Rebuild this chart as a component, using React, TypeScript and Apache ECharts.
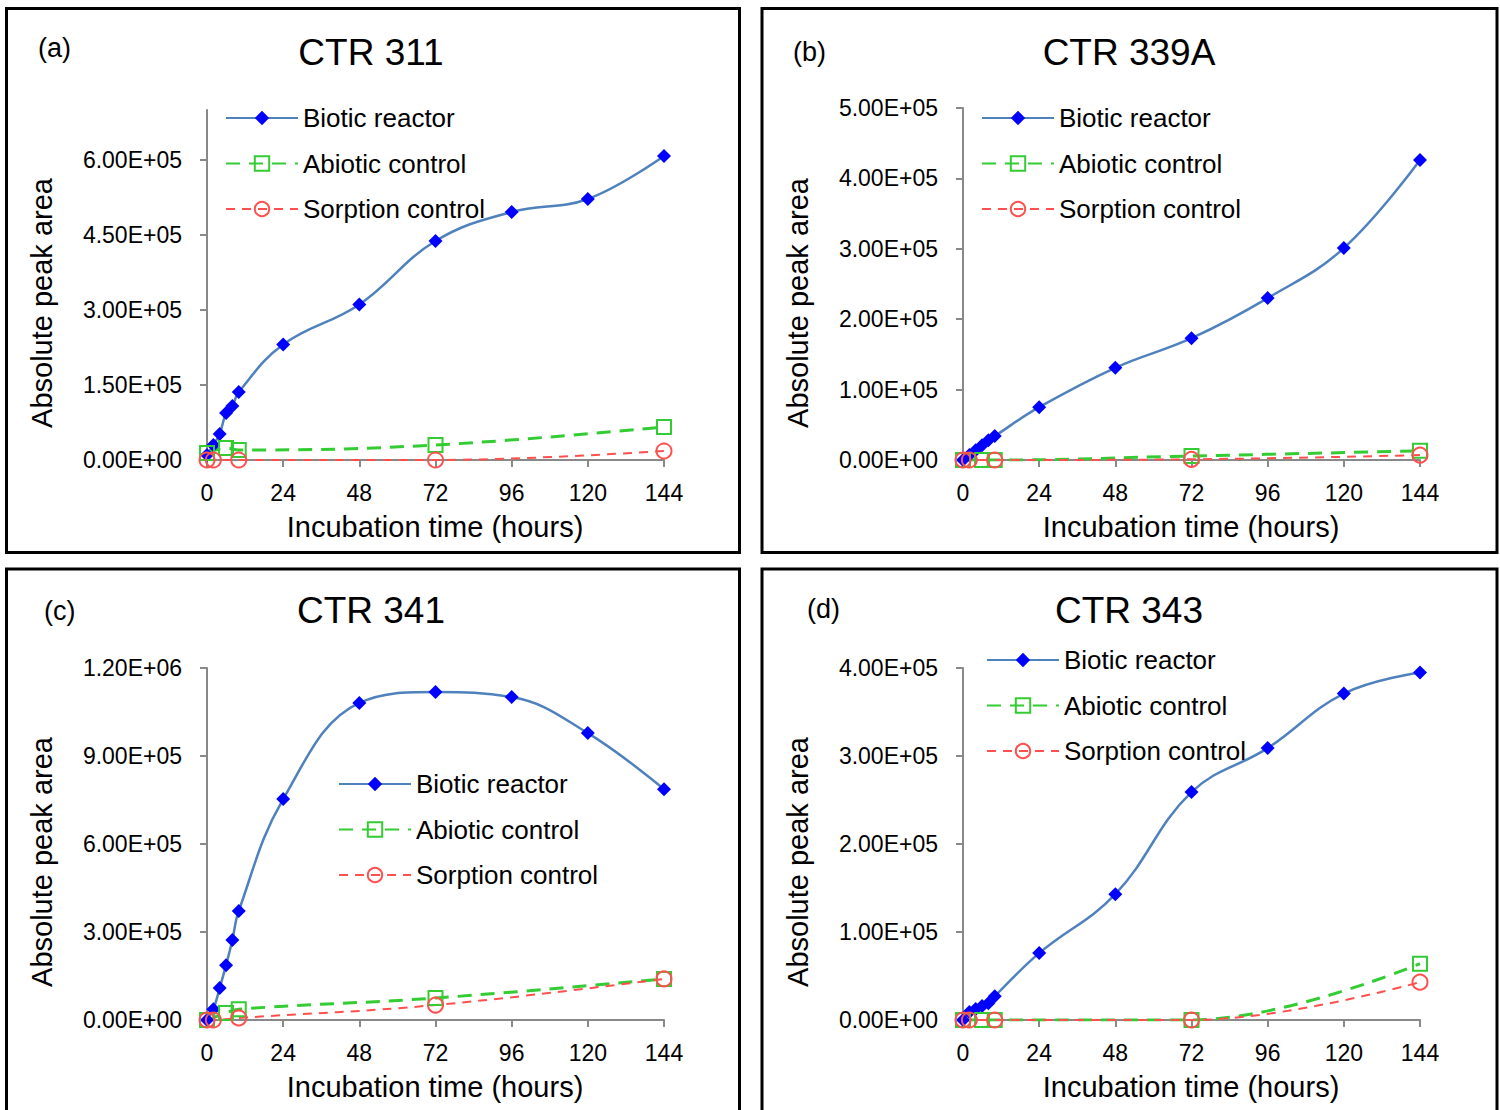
import React, { useEffect, useRef } from "react";
import * as echarts from "echarts";

// ---------- data ----------
const TIMES_BIOTIC = [0, 2, 4, 6, 8, 10, 24, 48, 72, 96, 120, 144];
const TIMES_ABIOTIC = [0, 6, 10, 72, 144];
const TIMES_SORPTION = [0, 2, 10, 72, 144];

const BIOTIC_A = [10000, 30000, 52000, 94000, 108000, 136000, 231000, 311000, 438000, 496000, 522000, 608000];
const ABIOTIC_A = [14000, 24000, 20000, 30000, 66000];
const SORPTION_A = [0, 0, 0, 0, 18000];

const BIOTIC_B = [0, 7000, 14000, 21000, 28000, 34000, 75000, 131000, 173000, 230000, 301000, 426000];
const ABIOTIC_B = [0, 0, 0, 5700, 13000];
const SORPTION_B = [0, 0, 0, 1000, 7000];

const BIOTIC_C = [0, 37000, 109000, 187000, 273000, 372000, 753000, 1081000, 1118000, 1101000, 978000, 787000];
const ABIOTIC_C = [0, 24000, 37000, 75000, 140000];
const SORPTION_C = [0, 0, 7000, 51000, 140000];

const BIOTIC_D = [0, 9000, 12500, 16000, 19000, 27000, 76000, 143000, 259000, 309000, 371000, 395000];
const ABIOTIC_D = [0, 0, 0, 0, 64000];
const SORPTION_D = [0, 0, 0, 0, 43000];

const PANEL_TITLES = ["CTR 311", "CTR 339A", "CTR 341", "CTR 343"];
const PANEL_LETTERS = ["(a)", "(b)", "(c)", "(d)"];
const SERIES_NAMES = ["Biotic reactor", "Abiotic control", "Sorption control"];
const X_TICKS = [0, 24, 48, 72, 96, 120, 144];
const Y_TICKS_A = [0, 150000, 300000, 450000, 600000];
const Y_TICKS_B = [0, 100000, 200000, 300000, 400000, 500000];
const Y_TICKS_C = [0, 300000, 600000, 900000, 1200000];
const Y_TICKS_D = [0, 100000, 200000, 300000, 400000];
const Y_MAX = [700000, 500000, 1200000, 400000];
const X_NAME = "Incubation time (hours)";
const Y_NAME = "Absolute peak area";

const FONT = "'Liberation Sans', Arial, sans-serif";

function fmtSci(v: number): string {
  if (v === 0) return "0.00E+00";
  let e = Math.floor(Math.log10(Math.abs(v)));
  let m = v / Math.pow(10, e);
  if (Math.round(m * 100) / 100 >= 10) {
    e += 1;
    m = v / Math.pow(10, e);
  }
  return m.toFixed(2) + "E" + (e < 0 ? "-" : "+") + String(Math.abs(e)).padStart(2, "0");
}

const pairs = (t: number[], v: number[]) => t.map((x, i) => [x, v[i]]);

export default function App() {
  const ref = useRef<HTMLDivElement>(null);

  useEffect(() => {
    if (!ref.current) return;
    const chart = echarts.init(ref.current, undefined, { renderer: "svg" });

    const grids = [
      { left: 207, top: 110, width: 457, height: 350 },
      { left: 963, top: 108, width: 457, height: 352 },
      { left: 207, top: 668, width: 457, height: 352 },
      { left: 963, top: 668, width: 457, height: 352 },
    ];
    const yTicks = [Y_TICKS_A, Y_TICKS_B, Y_TICKS_C, Y_TICKS_D];
    const data = [
      [BIOTIC_A, ABIOTIC_A, SORPTION_A],
      [BIOTIC_B, ABIOTIC_B, SORPTION_B],
      [BIOTIC_C, ABIOTIC_C, SORPTION_C],
      [BIOTIC_D, ABIOTIC_D, SORPTION_D],
    ];
    const axisColor = "#898989";

    const xAxis = grids.map((_, i) => ({
      type: "value",
      gridIndex: i,
      min: 0,
      max: 144,
      interval: 24,
      axisLine: { show: true, lineStyle: { color: axisColor, width: 2 } },
      axisTick: { show: true, inside: false, length: 7, lineStyle: { color: axisColor, width: 2 }, customValues: X_TICKS },
      axisLabel: { fontSize: 23, color: "#000", fontFamily: FONT, margin: 21, customValues: X_TICKS },
      splitLine: { show: false },
    }));

    const yAxis = grids.map((_, i) => ({
      type: "value",
      gridIndex: i,
      min: 0,
      max: Y_MAX[i],
      axisLine: { show: true, lineStyle: { color: axisColor, width: 2 } },
      axisTick: { show: true, inside: false, length: 7, lineStyle: { color: axisColor, width: 2 }, customValues: yTicks[i] },
      axisLabel: {
        fontSize: 23,
        color: "#000",
        fontFamily: FONT,
        margin: 25,
        customValues: yTicks[i],
        formatter: (v: number) => fmtSci(v),
      },
      splitLine: { show: false },
    }));

    const series: any[] = [];
    data.forEach((d, i) => {
      series.push({
        name: SERIES_NAMES[0],
        type: "line",
        xAxisIndex: i,
        yAxisIndex: i,
        smooth: 0.4,
        data: pairs(TIMES_BIOTIC, d[0]),
        symbol: "diamond",
        symbolSize: 14,
        lineStyle: { color: "#4F81BD", width: 2.5 },
        itemStyle: { color: "#0000FF", borderWidth: 0 },
      });
      series.push({
        name: SERIES_NAMES[1],
        type: "line",
        xAxisIndex: i,
        yAxisIndex: i,
        smooth: 0.4,
        data: pairs(TIMES_ABIOTIC, d[1]),
        symbol: "rect",
        symbolSize: 14,
        lineStyle: { color: "#33CC33", width: 3, type: [14, 9] },
        itemStyle: { color: "rgba(255,255,255,0)", borderColor: "#33CC33", borderWidth: 2 },
      });
      series.push({
        name: SERIES_NAMES[2],
        type: "line",
        xAxisIndex: i,
        yAxisIndex: i,
        smooth: 0.4,
        data: pairs(TIMES_SORPTION, d[2]),
        symbol: "circle",
        symbolSize: 15,
        lineStyle: { color: "#FF5050", width: 2, type: [9, 7] },
        itemStyle: { color: "rgba(255,255,255,0)", borderColor: "#FF5050", borderWidth: 2 },
      });
    });

    const legendPos = [
      { left: 225, top: 105 },
      { left: 981, top: 105 },
      { left: 338, top: 771 },
      { left: 986, top: 647 },
    ];
    const legend = legendPos.map((p) => ({
      left: p.left,
      top: p.top,
      padding: 0,
      orient: "vertical",
      itemWidth: 72,
      itemHeight: 18,
      itemGap: 19.5,
      selectedMode: false,
      textStyle: { fontSize: 26, color: "#000", fontFamily: FONT },
      data: SERIES_NAMES,
    }));

    const borders = [
      { x: 6.5, y: 8.5, width: 733, height: 544 },
      { x: 762, y: 8.5, width: 735, height: 544 },
      { x: 6.5, y: 569, width: 733, height: 580 },
      { x: 762, y: 569, width: 735, height: 580 },
    ];
    const titlePos = [
      { x: 371, y: 52 },
      { x: 1129, y: 52 },
      { x: 371, y: 610 },
      { x: 1129, y: 610 },
    ];
    const letterPos = [
      { x: 38, y: 48 },
      { x: 793, y: 52 },
      { x: 44, y: 611 },
      { x: 807, y: 609 },
    ];
    const yNamePos = [
      { x: 42, y: 303 },
      { x: 798, y: 303 },
      { x: 42, y: 862 },
      { x: 798, y: 862 },
    ];
    const xNamePos = [
      { x: 435, y: 527 },
      { x: 1191, y: 527 },
      { x: 435, y: 1087 },
      { x: 1191, y: 1087 },
    ];

    const graphic: any[] = [];
    borders.forEach((b) =>
      graphic.push({
        type: "rect",
        shape: b,
        style: { fill: "none", stroke: "#000", lineWidth: 3 },
        silent: true,
      })
    );
    titlePos.forEach((p, i) =>
      graphic.push({
        type: "text",
        x: p.x,
        y: p.y,
        style: { text: PANEL_TITLES[i], font: `37px ${FONT}`, fill: "#000", textAlign: "center", textVerticalAlign: "middle" },
      })
    );
    letterPos.forEach((p, i) =>
      graphic.push({
        type: "text",
        x: p.x,
        y: p.y,
        style: { text: PANEL_LETTERS[i], font: `27px ${FONT}`, fill: "#000", textAlign: "left", textVerticalAlign: "middle" },
      })
    );
    yNamePos.forEach((p) =>
      graphic.push({
        type: "text",
        x: p.x,
        y: p.y,
        rotation: Math.PI / 2,
        style: { text: Y_NAME, font: `29px ${FONT}`, fill: "#000", textAlign: "center", textVerticalAlign: "middle" },
      })
    );
    xNamePos.forEach((p) =>
      graphic.push({
        type: "text",
        x: p.x,
        y: p.y,
        style: { text: X_NAME, font: `29px ${FONT}`, fill: "#000", textAlign: "center", textVerticalAlign: "middle" },
      })
    );

    chart.setOption({
      animation: false,
      backgroundColor: "#fff",
      grid: grids.map((g) => ({ ...g, containLabel: false })),
      xAxis,
      yAxis,
      legend,
      series,
      graphic,
    });

    return () => chart.dispose();
  }, []);

  return (
    <div
      ref={ref}
      style={{ position: "absolute", left: 0, top: 0, width: 1500, height: 1110 }}
    />
  );
}
